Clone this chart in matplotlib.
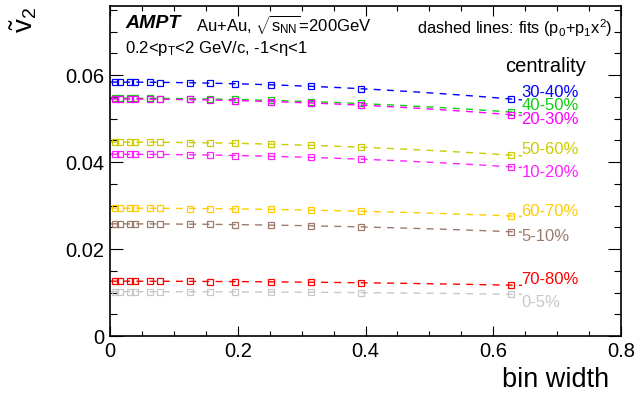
import matplotlib
matplotlib.use("Agg")
import matplotlib.pyplot as plt
import matplotlib.transforms as mtransforms
import numpy as np

plt.rcParams['font.family'] = ['Liberation Sans', 'DejaVu Sans']
plt.rcParams['mathtext.fontset'] = 'custom'
plt.rcParams['mathtext.rm'] = 'Liberation Sans'
plt.rcParams['mathtext.it'] = 'Liberation Sans:italic'
plt.rcParams['mathtext.bf'] = 'Liberation Sans:bold'

# bin widths (2pi/N)
bin_width = [0.0079, 0.0157, 0.0314, 0.0393, 0.0628, 0.0785, 0.1257,
             0.1571, 0.1963, 0.2513, 0.3142, 0.3927, 0.6283]

# v2 for each centrality class
v2_30_40 = [0.0584, 0.0584, 0.0584, 0.0584, 0.0584, 0.0583, 0.0582, 0.0582, 0.0580, 0.0578, 0.0574, 0.0569, 0.0545]
v2_40_50 = [0.0547, 0.0547, 0.0547, 0.0547, 0.0547, 0.0546, 0.0546, 0.0545, 0.0544, 0.0542, 0.0539, 0.0535, 0.0515]
v2_20_30 = [0.0545, 0.0545, 0.0545, 0.0545, 0.0545, 0.0544, 0.0544, 0.0543, 0.0541, 0.0539, 0.0536, 0.0531, 0.0509]
v2_50_60 = [0.0446, 0.0446, 0.0446, 0.0446, 0.0446, 0.0446, 0.0445, 0.0444, 0.0443, 0.0441, 0.0439, 0.0434, 0.0416]
v2_10_20 = [0.0418, 0.0418, 0.0418, 0.0418, 0.0418, 0.0418, 0.0417, 0.0416, 0.0415, 0.0413, 0.0411, 0.0407, 0.0389]
v2_60_70 = [0.0294, 0.0294, 0.0294, 0.0294, 0.0294, 0.0294, 0.0293, 0.0293, 0.0292, 0.0291, 0.0290, 0.0287, 0.0276]
v2_5_10 = [0.0258, 0.0258, 0.0258, 0.0258, 0.0258, 0.0258, 0.0257, 0.0257, 0.0256, 0.0255, 0.0253, 0.0251, 0.0240]
v2_70_80 = [0.0126, 0.0126, 0.0126, 0.0126, 0.0126, 0.0126, 0.0126, 0.0125, 0.0125, 0.0125, 0.0124, 0.0122, 0.0117]
v2_0_5 = [0.0102, 0.0102, 0.0102, 0.0102, 0.0102, 0.0102, 0.0102, 0.0102, 0.0101, 0.0101, 0.0101, 0.0100, 0.0096]

labels = ['30-40%', '40-50%', '20-30%', '50-60%', '10-20%',
          '60-70%', '5-10%', '70-80%', '0-5%']
series = [v2_30_40, v2_40_50, v2_20_30, v2_50_60, v2_10_20,
          v2_60_70, v2_5_10, v2_70_80, v2_0_5]
colors = ['#0000ff', '#11cc11', '#ff00ff', '#cccc00', '#ff22ff',
          '#ffcc00', '#9c7b6c', '#ff0000', '#c8c8c8']
label_y = [0.0561, 0.0529, 0.0497, 0.0428, 0.0375, 0.0287, 0.0228, 0.0131, 0.0078]

W, H = 635, 396
fig = plt.figure(figsize=(W / 100, H / 100), dpi=100)
ax = fig.add_axes([110 / W, 1 - 336 / H, 511 / W, 330 / H])

x = np.array(bin_width)
xfit = np.linspace(0, 0.645, 200)
for y, c in zip(series, colors):
    # dashed line: fit p0 + p1*x^2
    p1, p0 = np.polyfit(x ** 2, np.array(y), 1)
    ax.plot(xfit, p0 + p1 * xfit ** 2, color=c, lw=1.0, dashes=(5, 4.5))
    ax.plot(x, y, ls='none', marker='s', ms=4.2, mfc='none', mec=c, mew=0.9)

trans = mtransforms.blended_transform_factory(ax.transAxes, ax.transData)
for lab, c, ly in zip(labels, colors, label_y):
    ax.text(0.805, ly, lab, color=c, fontsize=12, transform=trans,
            ha='left', va='center')

ax.set_xlim(0, 0.8)
ax.set_ylim(0, 0.0759)
ax.set_xticks([0, 0.2, 0.4, 0.6, 0.8])
ax.set_xticklabels(['0', '0.2', '0.4', '0.6', '0.8'])
ax.set_yticks([0, 0.02, 0.04, 0.06])
ax.set_yticklabels(['0', '0.02', '0.04', '0.06'])
ax.set_xticks(np.arange(0, 0.801, 0.05), minor=True)
ax.set_yticks(np.arange(0, 0.0759, 0.005), minor=True)
ax.tick_params(which='both', direction='in', top=True, right=True,
               labelsize=14.5, width=0.8, color='black')
ax.tick_params(axis='x', which='major', length=7.2, pad=4)
ax.tick_params(axis='x', which='minor', length=3.6)
ax.tick_params(axis='y', which='major', length=9.4, pad=4)
ax.tick_params(axis='y', which='minor', length=4.7)
for s in ax.spines.values():
    s.set_linewidth(1.2)


def fx(px):
    return px / W


def fy(py):
    return 1 - py / H


fig.text(fx(609), fy(380), 'bin width', fontsize=19.5, ha='right', va='center')
fig.text(fx(24), fy(20), r'$\tilde{\mathrm{v}}_2$', fontsize=20, rotation=90,
         ha='center', va='center')
fig.text(fx(125), fy(24), 'AMPT', fontsize=14, fontweight='bold',
         style='italic', ha='left', va='center')
fig.text(fx(196), fy(24), r'Au+Au, $\sqrt{\mathrm{s}_{\mathrm{NN}}}$=200GeV',
         fontsize=12, ha='left', va='center')
fig.text(fx(125), fy(48), r'0.2<p$_{\mathrm{T}}$<2 GeV/c, -1<η<1',
         fontsize=12, ha='left', va='center')
fig.text(fx(612), fy(28), r'dashed lines: fits (p$_0$+p$_1$x$^2$)',
         fontsize=11.8, ha='right', va='center')
fig.text(fx(505), fy(67), 'centrality', fontsize=14.5, ha='left', va='center')

fig.savefig('out.png', dpi=100)
